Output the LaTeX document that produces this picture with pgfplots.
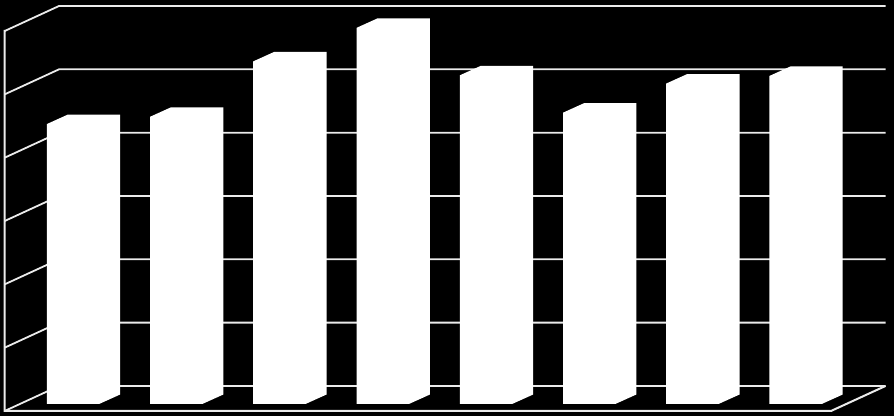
\documentclass[border=0pt]{standalone}
\usepackage{pgfplots}
\usepackage{pgfplotstable}
\pgfplotsset{compat=1.18}

% bar height above its base, in grid units (10 = one gridline step)
\pgfplotstableread{
left value
46.8 44.2
150.0 45.35
253.2 54.1
356.6 59.4
459.8 51.9
563.0 46.0
666.2 50.6
769.4 51.8
}\bars

\definecolor{gridc}{gray}{0.92}

\begin{document}
\begin{tikzpicture}
\begin{axis}[
    width=894pt, height=416pt,
    scale only axis,
    xmin=0, xmax=894,
    ymin=-0.79, ymax=64.9,
    ticks=none,
    axis line style={draw=none},
    axis background/.style={fill=black},
    clip=true,
]
% left wall and floor
\addplot[gridc, line width=2pt] coordinates {(4.7,60.2) (4.7,0) (831,0) (885.5,3.95)};
% gridlines, front edge to back wall
\pgfplotsinvokeforeach{0,10,20,30,40,50,60}{
    \pgfmathsetmacro{\yb}{#1+3.95}
    \edef\temp{\noexpand\addplot[gridc, line width=1.8pt] coordinates {(4.7,#1) (59,\yb) (885.5,\yb)};}
    \temp
}
% bars, front face plus the slanted side and top, all white
\pgfplotsforeachungrouped \i in {0,...,7}{
    \pgfplotstablegetelem{\i}{left}\of\bars \let\xl\pgfplotsretval
    \pgfplotstablegetelem{\i}{value}\of\bars \let\val\pgfplotsretval
    \pgfmathsetmacro{\xa}{\xl+52.3}
    \pgfmathsetmacro{\xb}{\xl+21}
    \pgfmathsetmacro{\xc}{\xl+73.3}
    \pgfmathsetmacro{\top}{1.105+\val}
    \pgfmathsetmacro{\topb}{\top+1.5}
    \edef\temp{\noexpand\addplot[fill=white, draw=none] coordinates {
        (\xl,1.105) (\xa,1.105) (\xc,2.6) (\xc,\topb) (\xb,\topb) (\xl,\top) (\xl,1.105)};}
    \temp
}
\end{axis}
\end{tikzpicture}
\end{document}
